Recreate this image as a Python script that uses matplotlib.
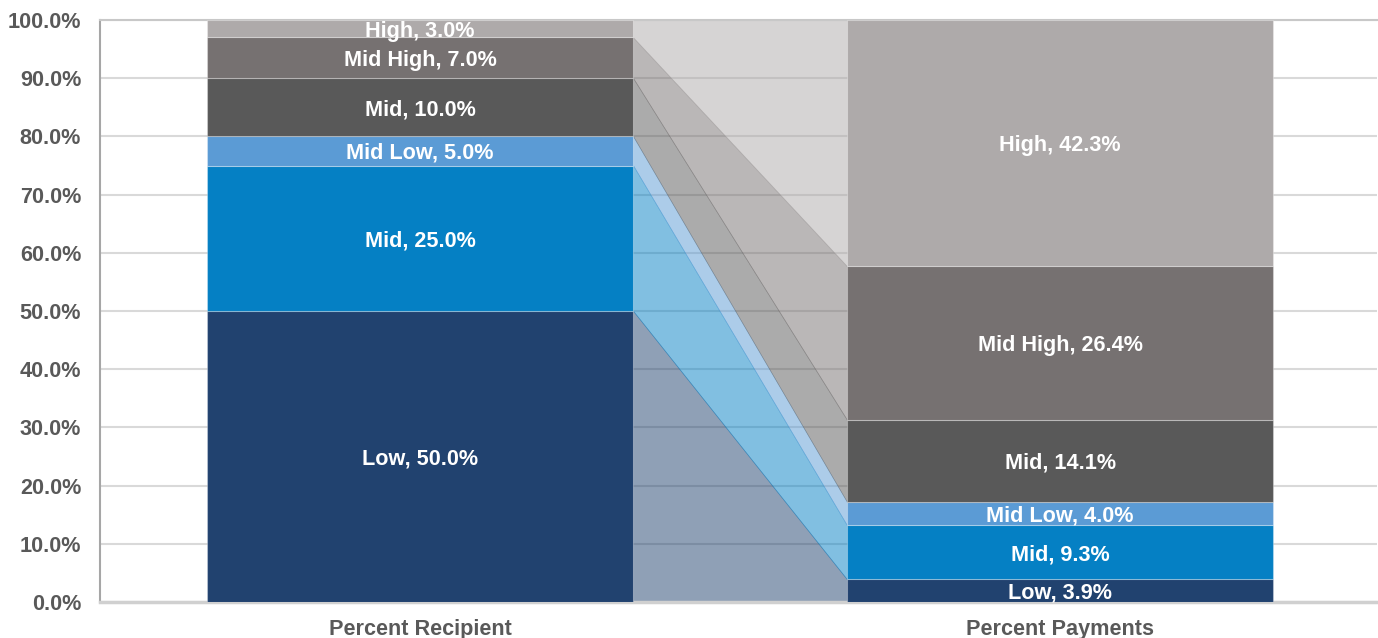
import numpy as np
import matplotlib.pyplot as plt

# Share of recipients vs share of payments, by tier
groups = ["Percent Recipient", "Percent Payments"]
tiers = ["Low", "Mid", "Mid Low", "Mid", "Mid High", "High"]
recipient = [50.0, 25.0, 5.0, 10.0, 7.0, 3.0]
payments = [3.9, 9.3, 4.0, 14.1, 26.4, 42.3]
colors = ["#21426f", "#0580c4", "#5b9bd5", "#595959", "#767171", "#aeaaaa"]

plt.rcParams['font.family'] = ['Liberation Sans', 'DejaVu Sans']

fig = plt.figure(figsize=(13.78, 6.38), dpi=100)
ax = fig.add_axes([100 / 1378, 36 / 638, 1277 / 1378, 582 / 638])

width = 0.666
xs = np.arange(len(groups))
series = [recipient, payments]
fs = 15.6

# stacked bars
bottoms = []
for i, vals in enumerate(series):
    bot = np.concatenate([[0], np.cumsum(vals)[:-1]])
    bottoms.append(bot)
    for j, v in enumerate(vals):
        ax.bar(xs[i], v, width=width, bottom=bot[j], color=colors[j],
               edgecolor=(1, 1, 1, 0.3), linewidth=0.8, zorder=3)
        ax.text(xs[i], bot[j] + v / 2, f"{tiers[j]}, {v:.1f}%", ha='center',
                va='center_baseline', color='white', fontsize=fs,
                fontweight='bold', zorder=5)

# translucent ribbons joining the two bars
bx = [xs[0] + width / 2, xs[1] - width / 2]
for j in range(len(tiers)):
    lo = [bottoms[0][j], bottoms[1][j]]
    hi = [bottoms[0][j] + recipient[j], bottoms[1][j] + payments[j]]
    ax.fill_between(bx, lo, hi, color=colors[j], alpha=0.5, linewidth=0.4, zorder=2)

ax.set_xlim(-0.5, 1.495)
ax.set_ylim(0, 100)
ax.set_yticks(np.arange(0, 101, 10))
ax.set_yticklabels([f"{t:.1f}%" for t in np.arange(0, 101, 10)])
ax.set_xticks(xs)
ax.set_xticklabels(groups)
ax.tick_params(axis='y', length=0, pad=13.5, labelsize=fs, labelcolor='#595959')
ax.tick_params(axis='x', length=0, pad=12.5, labelsize=fs, labelcolor='#595959')
for lab in ax.get_xticklabels() + ax.get_yticklabels():
    lab.set_fontweight('bold')

ax.yaxis.grid(True, color='#d9d9d9', linewidth=1.5, zorder=0)
ax.set_axisbelow(True)
ax.spines['right'].set_visible(False)
ax.spines['left'].set_color('#a6a6a6')
ax.spines['left'].set_linewidth(1.5)
ax.spines['top'].set_color('#c8c8c8')
ax.spines['top'].set_linewidth(1.5)
ax.spines['bottom'].set_color('#d0d0d0')
ax.spines['bottom'].set_linewidth(2.5)

fig.savefig("out.png", dpi=100)
